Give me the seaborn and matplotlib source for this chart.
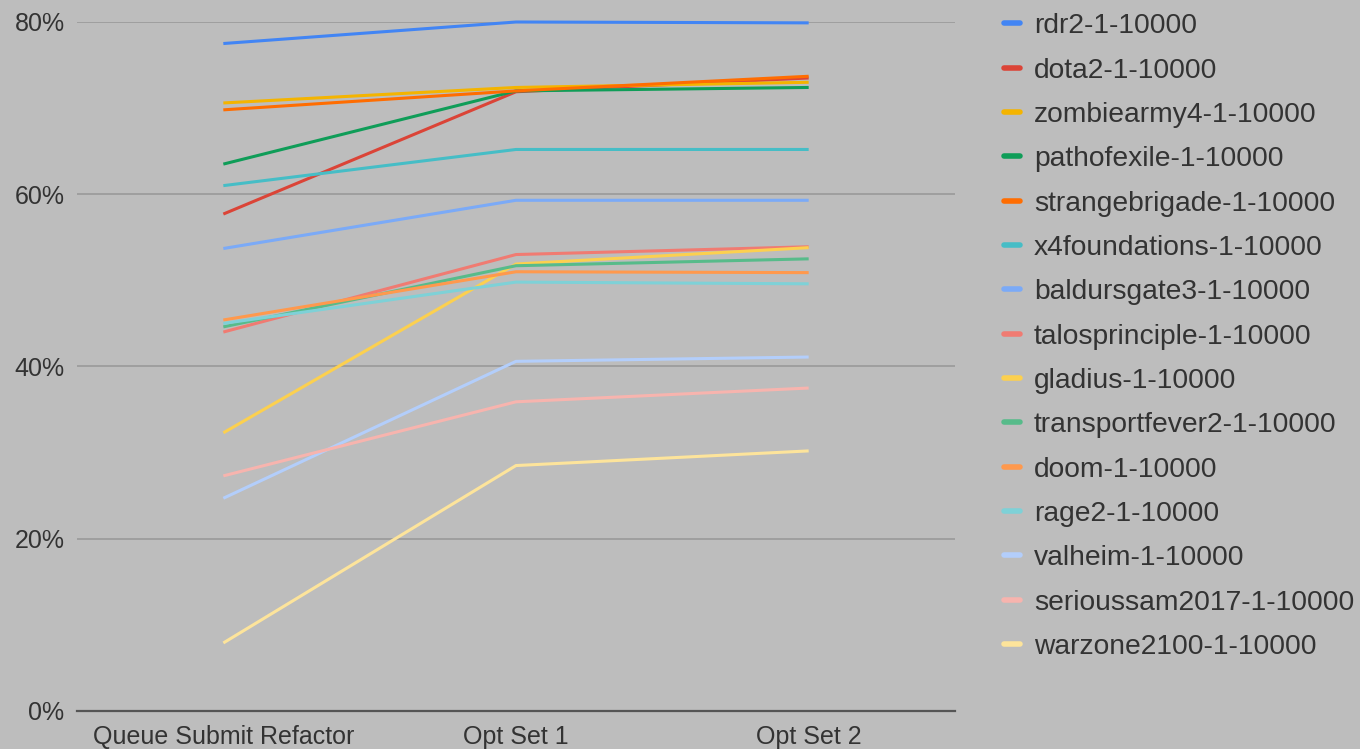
import matplotlib
matplotlib.use("Agg")
import matplotlib.pyplot as plt
import seaborn as sns
import pandas as pd
from matplotlib.lines import Line2D
from matplotlib.ticker import FuncFormatter

categories = ["Queue Submit Refactor", "Opt Set 1", "Opt Set 2"]

series_names = [
    "rdr2-1-10000", "dota2-1-10000", "zombiearmy4-1-10000", "pathofexile-1-10000",
    "strangebrigade-1-10000", "x4foundations-1-10000", "baldursgate3-1-10000",
    "talosprinciple-1-10000", "gladius-1-10000", "transportfever2-1-10000",
    "doom-1-10000", "rage2-1-10000", "valheim-1-10000", "serioussam2017-1-10000",
    "warzone2100-1-10000",
]

rdr2 = [77.5, 80.0, 79.9]
dota2 = [57.7, 71.9, 73.5]
zombiearmy4 = [70.6, 72.4, 73.0]
pathofexile = [63.5, 72.0, 72.4]
strangebrigade = [69.8, 72.0, 73.7]
x4foundations = [61.0, 65.2, 65.2]
baldursgate3 = [53.7, 59.3, 59.3]
talosprinciple = [44.0, 53.0, 53.9]
gladius = [32.3, 51.9, 53.8]
transportfever2 = [44.6, 51.7, 52.5]
doom = [45.4, 51.0, 50.9]
rage2 = [45.0, 49.8, 49.6]
valheim = [24.7, 40.6, 41.1]
serioussam2017 = [27.3, 35.9, 37.5]
warzone2100 = [7.9, 28.5, 30.2]

all_values = [rdr2, dota2, zombiearmy4, pathofexile, strangebrigade, x4foundations,
              baldursgate3, talosprinciple, gladius, transportfever2, doom, rage2,
              valheim, serioussam2017, warzone2100]

colors = ["#4285F4", "#DB4437", "#F4B400", "#0F9D58", "#FF6D01", "#46BDC6",
          "#7BAAF7", "#F07B72", "#FCD04F", "#57BB8A", "#FF994D", "#7ED1D7",
          "#B3CEFB", "#F7B4AE", "#FDE49B"]

rows = []
for name, vals in zip(series_names, all_values):
    for i, v in enumerate(vals):
        rows.append({"series": name, "x": i, "value": v})
df = pd.DataFrame(rows)

sns.set_theme(style="white")
plt.rcParams["font.family"] = ["Liberation Sans", "DejaVu Sans"]

bg = "#BDBDBD"
fig = plt.figure(figsize=(13.6, 7.49), dpi=100, facecolor=bg)
ax = fig.add_axes([77 / 1360, 38 / 749, (955 - 77) / 1360, (711 - 22) / 749])
ax.set_facecolor(bg)

sns.lineplot(data=df, x="x", y="value", hue="series", hue_order=series_names,
             palette=colors, linewidth=2.2, ax=ax, legend=False, sort=False)
for ln in ax.lines:
    ln.set_clip_on(False)
    ln.set_solid_capstyle("butt")

ax.set_xlim(-0.5, 2.5)
ax.set_ylim(0, 80)
ax.set_yticks([0, 20, 40, 60, 80])
ax.yaxis.set_major_formatter(FuncFormatter(lambda v, p: f"{int(v)}%"))
ax.set_xticks(range(len(categories)))
ax.set_xticklabels(categories)
ax.set_xlabel("")
ax.set_ylabel("")
ax.grid(axis="y", color="#999999", linewidth=1.2)
ax.set_axisbelow(True)
for s in ["top", "right", "left"]:
    ax.spines[s].set_visible(False)
ax.spines["bottom"].set_color("#555555")
ax.spines["bottom"].set_linewidth(1.6)
ax.tick_params(axis="both", length=0, labelsize=18, labelcolor="#333333")
ax.tick_params(axis="y", pad=9)
ax.tick_params(axis="x", pad=10)

handles = [Line2D([0], [0], color=c, linewidth=4, solid_capstyle="round") for c in colors]
leg = fig.legend(handles, series_names, loc="upper left",
                 bbox_to_anchor=(993 / 1360, 1 - 2 / 749), frameon=False,
                 fontsize=20.3, handlelength=0.55, handletextpad=0.5,
                 labelspacing=0.65, labelcolor="#333333", borderaxespad=0)

fig.savefig("out.png", dpi=100, facecolor=bg)
